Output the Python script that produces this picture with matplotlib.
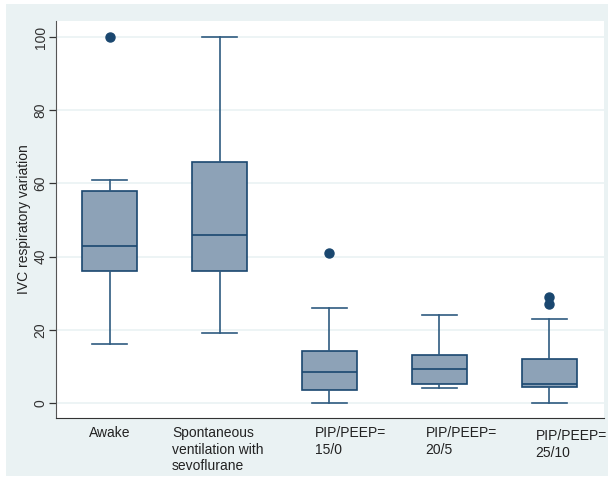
import matplotlib.pyplot as plt
import matplotlib.transforms as mtransforms
from matplotlib.patches import Rectangle

plt.rcParams['font.family'] = ['Liberation Sans', 'DejaVu Sans']

# groups and box statistics
groups = ["Awake", "Spontaneous\nventilation with\nsevoflurane",
          "PIP/PEEP=\n15/0", "PIP/PEEP=\n20/5", "PIP/PEEP=\n25/10"]
whis_lo = [16, 19, 0, 4.2, 0]
q1 = [36, 36, 3.5, 5.2, 4.3]
med = [43, 46, 8.6, 9.2, 5.1]
q3 = [58, 66, 14.2, 13.0, 12.1]
whis_hi = [61, 100, 26, 24.1, 23]
outliers = [[100], [], [41], [], [27, 29]]

# label nudges in pixels (stata placement)
label_dx = [0, -2, 21, 22, 22]
label_dy = [0, 0, 0, 0, -3]

navy = "#1A476F"
fill = "#8DA2B7"
bg = "#EAF2F3"

fig = plt.figure(figsize=(6.08, 4.78), dpi=100)
fig.patches.append(Rectangle((6 / 608, 2 / 478), 602 / 608, 472 / 478,
                             transform=fig.transFigure, facecolor=bg,
                             edgecolor="none", zorder=-10))
ax = fig.add_axes([56 / 608, 60 / 478, 548 / 608, 397 / 478])
ax.set_facecolor("white")

stats = []
for i in range(len(groups)):
    stats.append(dict(whislo=whis_lo[i], q1=q1[i], med=med[i], q3=q3[i],
                      whishi=whis_hi[i], fliers=outliers[i]))

pos = list(range(1, len(groups) + 1))
ax.bxp(stats, positions=pos, widths=0.5, patch_artist=True,
       showfliers=True,
       boxprops=dict(facecolor=fill, edgecolor=navy, linewidth=1.2),
       medianprops=dict(color=navy, linewidth=1.2),
       whiskerprops=dict(color="#2F5B80", linewidth=1.2),
       capprops=dict(color="#2F5B80", linewidth=1.2),
       capwidths=0.32,
       flierprops=dict(marker="o", markerfacecolor=navy, markeredgecolor=navy,
                       markersize=6.5))

ax.set_xlim(0.51, 5.5)
ax.set_ylim(-4.1, 104.4)
ax.set_yticks([0, 20, 40, 60, 80, 100])
ax.yaxis.grid(True, color=bg, linewidth=1.2)
ax.set_axisbelow(True)

ax.set_xticks(pos)
ax.set_xticklabels(groups, fontsize=10, multialignment="left")
ax.tick_params(axis="x", length=0, pad=6, colors="#222222")
ax.tick_params(axis="y", length=5, width=0.9, colors="#333333",
               labelsize=10, pad=1)
for lab in ax.get_yticklabels():
    lab.set_rotation(90)
    lab.set_va("center")

for lab, dx, dy in zip(ax.get_xticklabels(), label_dx, label_dy):
    off = mtransforms.ScaledTranslation(dx / 100, dy / 100, fig.dpi_scale_trans)
    lab.set_transform(lab.get_transform() + off)

ax.set_ylabel("IVC respiratory variation", fontsize=10, color="#222222",
              labelpad=2)

for s in ["top", "right"]:
    ax.spines[s].set_visible(False)
ax.spines["left"].set_color("#555555")
ax.spines["bottom"].set_color("#333333")

fig.savefig("out.png", dpi=100)
